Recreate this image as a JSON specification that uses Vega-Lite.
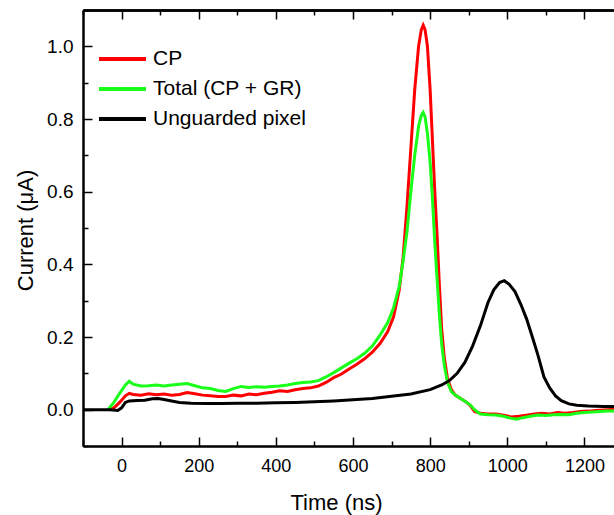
{
  "$schema": "https://vega.github.io/schema/vega-lite/v6.json",
  "width": 540,
  "height": 436,
  "autosize": {"type": "none"},
  "padding": {"left": 83, "top": 10, "right": -9, "bottom": 69},
  "background": "white",
  "config": {
    "view": {"stroke": null},
    "font": "Liberation Sans",
    "axis": {
      "grid": false,
      "domainColor": "black",
      "domainWidth": 2,
      "tickColor": "black",
      "tickWidth": 1.5,
      "labelColor": "black",
      "titleColor": "black",
      "labelFont": "Liberation Sans",
      "titleFont": "Liberation Sans",
      "titleFontWeight": "normal",
      "labelOverlap": false,
      "zindex": 1
    }
  },
  "datasets": {
    "curves": [
      {"t": -35, "v": 0.0, "series": "CP"},
      {"t": -20, "v": 0.005, "series": "CP"},
      {"t": -5, "v": 0.02, "series": "CP"},
      {"t": 10, "v": 0.038, "series": "CP"},
      {"t": 20, "v": 0.045, "series": "CP"},
      {"t": 30, "v": 0.042, "series": "CP"},
      {"t": 50, "v": 0.04, "series": "CP"},
      {"t": 70, "v": 0.044, "series": "CP"},
      {"t": 90, "v": 0.041, "series": "CP"},
      {"t": 110, "v": 0.043, "series": "CP"},
      {"t": 130, "v": 0.04, "series": "CP"},
      {"t": 150, "v": 0.042, "series": "CP"},
      {"t": 170, "v": 0.047, "series": "CP"},
      {"t": 190, "v": 0.044, "series": "CP"},
      {"t": 210, "v": 0.04, "series": "CP"},
      {"t": 230, "v": 0.038, "series": "CP"},
      {"t": 250, "v": 0.036, "series": "CP"},
      {"t": 270, "v": 0.036, "series": "CP"},
      {"t": 290, "v": 0.04, "series": "CP"},
      {"t": 310, "v": 0.038, "series": "CP"},
      {"t": 330, "v": 0.043, "series": "CP"},
      {"t": 350, "v": 0.041, "series": "CP"},
      {"t": 370, "v": 0.045, "series": "CP"},
      {"t": 390, "v": 0.048, "series": "CP"},
      {"t": 410, "v": 0.052, "series": "CP"},
      {"t": 430, "v": 0.05, "series": "CP"},
      {"t": 450, "v": 0.055, "series": "CP"},
      {"t": 470, "v": 0.058, "series": "CP"},
      {"t": 490, "v": 0.06, "series": "CP"},
      {"t": 510, "v": 0.065, "series": "CP"},
      {"t": 530, "v": 0.075, "series": "CP"},
      {"t": 550, "v": 0.088, "series": "CP"},
      {"t": 570, "v": 0.098, "series": "CP"},
      {"t": 590, "v": 0.112, "series": "CP"},
      {"t": 610, "v": 0.125, "series": "CP"},
      {"t": 630, "v": 0.14, "series": "CP"},
      {"t": 650, "v": 0.158, "series": "CP"},
      {"t": 670, "v": 0.182, "series": "CP"},
      {"t": 690, "v": 0.215, "series": "CP"},
      {"t": 705, "v": 0.255, "series": "CP"},
      {"t": 720, "v": 0.33, "series": "CP"},
      {"t": 730, "v": 0.42, "series": "CP"},
      {"t": 740, "v": 0.56, "series": "CP"},
      {"t": 750, "v": 0.72, "series": "CP"},
      {"t": 760, "v": 0.88, "series": "CP"},
      {"t": 770, "v": 1.0, "series": "CP"},
      {"t": 777, "v": 1.045, "series": "CP"},
      {"t": 782, "v": 1.058, "series": "CP"},
      {"t": 787, "v": 1.045, "series": "CP"},
      {"t": 793, "v": 1.0, "series": "CP"},
      {"t": 800, "v": 0.88, "series": "CP"},
      {"t": 806, "v": 0.74, "series": "CP"},
      {"t": 812, "v": 0.6, "series": "CP"},
      {"t": 818, "v": 0.48, "series": "CP"},
      {"t": 824, "v": 0.34, "series": "CP"},
      {"t": 830, "v": 0.22, "series": "CP"},
      {"t": 837, "v": 0.14, "series": "CP"},
      {"t": 845, "v": 0.085, "series": "CP"},
      {"t": 855, "v": 0.055, "series": "CP"},
      {"t": 865, "v": 0.04, "series": "CP"},
      {"t": 880, "v": 0.03, "series": "CP"},
      {"t": 895, "v": 0.02, "series": "CP"},
      {"t": 905, "v": 0.01, "series": "CP"},
      {"t": 915, "v": -0.005, "series": "CP"},
      {"t": 930, "v": -0.01, "series": "CP"},
      {"t": 950, "v": -0.012, "series": "CP"},
      {"t": 970, "v": -0.012, "series": "CP"},
      {"t": 990, "v": -0.015, "series": "CP"},
      {"t": 1010, "v": -0.02, "series": "CP"},
      {"t": 1030, "v": -0.018, "series": "CP"},
      {"t": 1050, "v": -0.015, "series": "CP"},
      {"t": 1070, "v": -0.012, "series": "CP"},
      {"t": 1090, "v": -0.01, "series": "CP"},
      {"t": 1110, "v": -0.012, "series": "CP"},
      {"t": 1130, "v": -0.008, "series": "CP"},
      {"t": 1150, "v": -0.01, "series": "CP"},
      {"t": 1170, "v": -0.008, "series": "CP"},
      {"t": 1190, "v": -0.005, "series": "CP"},
      {"t": 1210, "v": -0.004, "series": "CP"},
      {"t": 1230, "v": -0.002, "series": "CP"},
      {"t": 1260, "v": 0.0, "series": "CP"},
      {"t": 1300, "v": 0.002, "series": "CP"},

      {"t": -35, "v": 0.0, "series": "Total (CP + GR)"},
      {"t": -20, "v": 0.02, "series": "Total (CP + GR)"},
      {"t": -5, "v": 0.045, "series": "Total (CP + GR)"},
      {"t": 10, "v": 0.068, "series": "Total (CP + GR)"},
      {"t": 20, "v": 0.078, "series": "Total (CP + GR)"},
      {"t": 30, "v": 0.07, "series": "Total (CP + GR)"},
      {"t": 50, "v": 0.065, "series": "Total (CP + GR)"},
      {"t": 70, "v": 0.066, "series": "Total (CP + GR)"},
      {"t": 90, "v": 0.068, "series": "Total (CP + GR)"},
      {"t": 110, "v": 0.065, "series": "Total (CP + GR)"},
      {"t": 130, "v": 0.068, "series": "Total (CP + GR)"},
      {"t": 150, "v": 0.07, "series": "Total (CP + GR)"},
      {"t": 170, "v": 0.072, "series": "Total (CP + GR)"},
      {"t": 190, "v": 0.066, "series": "Total (CP + GR)"},
      {"t": 210, "v": 0.06, "series": "Total (CP + GR)"},
      {"t": 230, "v": 0.058, "series": "Total (CP + GR)"},
      {"t": 250, "v": 0.053, "series": "Total (CP + GR)"},
      {"t": 270, "v": 0.05, "series": "Total (CP + GR)"},
      {"t": 290, "v": 0.058, "series": "Total (CP + GR)"},
      {"t": 310, "v": 0.064, "series": "Total (CP + GR)"},
      {"t": 330, "v": 0.061, "series": "Total (CP + GR)"},
      {"t": 350, "v": 0.063, "series": "Total (CP + GR)"},
      {"t": 370, "v": 0.062, "series": "Total (CP + GR)"},
      {"t": 390, "v": 0.064, "series": "Total (CP + GR)"},
      {"t": 410, "v": 0.065, "series": "Total (CP + GR)"},
      {"t": 430, "v": 0.068, "series": "Total (CP + GR)"},
      {"t": 450, "v": 0.072, "series": "Total (CP + GR)"},
      {"t": 470, "v": 0.075, "series": "Total (CP + GR)"},
      {"t": 490, "v": 0.076, "series": "Total (CP + GR)"},
      {"t": 510, "v": 0.08, "series": "Total (CP + GR)"},
      {"t": 530, "v": 0.09, "series": "Total (CP + GR)"},
      {"t": 550, "v": 0.102, "series": "Total (CP + GR)"},
      {"t": 570, "v": 0.115, "series": "Total (CP + GR)"},
      {"t": 590, "v": 0.128, "series": "Total (CP + GR)"},
      {"t": 610, "v": 0.14, "series": "Total (CP + GR)"},
      {"t": 630, "v": 0.155, "series": "Total (CP + GR)"},
      {"t": 650, "v": 0.175, "series": "Total (CP + GR)"},
      {"t": 670, "v": 0.205, "series": "Total (CP + GR)"},
      {"t": 690, "v": 0.24, "series": "Total (CP + GR)"},
      {"t": 705, "v": 0.28, "series": "Total (CP + GR)"},
      {"t": 720, "v": 0.34, "series": "Total (CP + GR)"},
      {"t": 730, "v": 0.41, "series": "Total (CP + GR)"},
      {"t": 740, "v": 0.49, "series": "Total (CP + GR)"},
      {"t": 750, "v": 0.6, "series": "Total (CP + GR)"},
      {"t": 760, "v": 0.7, "series": "Total (CP + GR)"},
      {"t": 770, "v": 0.78, "series": "Total (CP + GR)"},
      {"t": 777, "v": 0.81, "series": "Total (CP + GR)"},
      {"t": 782, "v": 0.818, "series": "Total (CP + GR)"},
      {"t": 787, "v": 0.805, "series": "Total (CP + GR)"},
      {"t": 793, "v": 0.76, "series": "Total (CP + GR)"},
      {"t": 800, "v": 0.68, "series": "Total (CP + GR)"},
      {"t": 806, "v": 0.58, "series": "Total (CP + GR)"},
      {"t": 812, "v": 0.46, "series": "Total (CP + GR)"},
      {"t": 818, "v": 0.36, "series": "Total (CP + GR)"},
      {"t": 824, "v": 0.26, "series": "Total (CP + GR)"},
      {"t": 830, "v": 0.18, "series": "Total (CP + GR)"},
      {"t": 837, "v": 0.12, "series": "Total (CP + GR)"},
      {"t": 845, "v": 0.075, "series": "Total (CP + GR)"},
      {"t": 855, "v": 0.05, "series": "Total (CP + GR)"},
      {"t": 865, "v": 0.04, "series": "Total (CP + GR)"},
      {"t": 880, "v": 0.03, "series": "Total (CP + GR)"},
      {"t": 895, "v": 0.02, "series": "Total (CP + GR)"},
      {"t": 905, "v": 0.012, "series": "Total (CP + GR)"},
      {"t": 915, "v": 0.0, "series": "Total (CP + GR)"},
      {"t": 930, "v": -0.012, "series": "Total (CP + GR)"},
      {"t": 950, "v": -0.014, "series": "Total (CP + GR)"},
      {"t": 970, "v": -0.015, "series": "Total (CP + GR)"},
      {"t": 990, "v": -0.018, "series": "Total (CP + GR)"},
      {"t": 1010, "v": -0.024, "series": "Total (CP + GR)"},
      {"t": 1025, "v": -0.026, "series": "Total (CP + GR)"},
      {"t": 1040, "v": -0.022, "series": "Total (CP + GR)"},
      {"t": 1060, "v": -0.018, "series": "Total (CP + GR)"},
      {"t": 1080, "v": -0.015, "series": "Total (CP + GR)"},
      {"t": 1100, "v": -0.016, "series": "Total (CP + GR)"},
      {"t": 1120, "v": -0.014, "series": "Total (CP + GR)"},
      {"t": 1140, "v": -0.013, "series": "Total (CP + GR)"},
      {"t": 1160, "v": -0.014, "series": "Total (CP + GR)"},
      {"t": 1180, "v": -0.01, "series": "Total (CP + GR)"},
      {"t": 1200, "v": -0.008, "series": "Total (CP + GR)"},
      {"t": 1230, "v": -0.006, "series": "Total (CP + GR)"},
      {"t": 1260, "v": -0.004, "series": "Total (CP + GR)"},
      {"t": 1300, "v": -0.003, "series": "Total (CP + GR)"},

      {"t": -100, "v": 0.0, "series": "Unguarded pixel"},
      {"t": -60, "v": 0.0, "series": "Unguarded pixel"},
      {"t": -30, "v": 0.0, "series": "Unguarded pixel"},
      {"t": -10, "v": -0.002, "series": "Unguarded pixel"},
      {"t": 0, "v": 0.005, "series": "Unguarded pixel"},
      {"t": 10, "v": 0.02, "series": "Unguarded pixel"},
      {"t": 20, "v": 0.024, "series": "Unguarded pixel"},
      {"t": 40, "v": 0.025, "series": "Unguarded pixel"},
      {"t": 60, "v": 0.026, "series": "Unguarded pixel"},
      {"t": 80, "v": 0.03, "series": "Unguarded pixel"},
      {"t": 95, "v": 0.031, "series": "Unguarded pixel"},
      {"t": 110, "v": 0.028, "series": "Unguarded pixel"},
      {"t": 130, "v": 0.024, "series": "Unguarded pixel"},
      {"t": 150, "v": 0.02, "series": "Unguarded pixel"},
      {"t": 180, "v": 0.018, "series": "Unguarded pixel"},
      {"t": 220, "v": 0.017, "series": "Unguarded pixel"},
      {"t": 260, "v": 0.017, "series": "Unguarded pixel"},
      {"t": 300, "v": 0.018, "series": "Unguarded pixel"},
      {"t": 350, "v": 0.018, "series": "Unguarded pixel"},
      {"t": 400, "v": 0.019, "series": "Unguarded pixel"},
      {"t": 450, "v": 0.02, "series": "Unguarded pixel"},
      {"t": 500, "v": 0.022, "series": "Unguarded pixel"},
      {"t": 550, "v": 0.024, "series": "Unguarded pixel"},
      {"t": 600, "v": 0.027, "series": "Unguarded pixel"},
      {"t": 650, "v": 0.031, "series": "Unguarded pixel"},
      {"t": 700, "v": 0.037, "series": "Unguarded pixel"},
      {"t": 750, "v": 0.043, "series": "Unguarded pixel"},
      {"t": 800, "v": 0.055, "series": "Unguarded pixel"},
      {"t": 830, "v": 0.068, "series": "Unguarded pixel"},
      {"t": 850, "v": 0.08, "series": "Unguarded pixel"},
      {"t": 870, "v": 0.1, "series": "Unguarded pixel"},
      {"t": 890, "v": 0.13, "series": "Unguarded pixel"},
      {"t": 910, "v": 0.175, "series": "Unguarded pixel"},
      {"t": 930, "v": 0.23, "series": "Unguarded pixel"},
      {"t": 950, "v": 0.295, "series": "Unguarded pixel"},
      {"t": 965, "v": 0.33, "series": "Unguarded pixel"},
      {"t": 980, "v": 0.35, "series": "Unguarded pixel"},
      {"t": 992, "v": 0.355, "series": "Unguarded pixel"},
      {"t": 1005, "v": 0.345, "series": "Unguarded pixel"},
      {"t": 1020, "v": 0.325, "series": "Unguarded pixel"},
      {"t": 1035, "v": 0.29, "series": "Unguarded pixel"},
      {"t": 1050, "v": 0.25, "series": "Unguarded pixel"},
      {"t": 1065, "v": 0.2, "series": "Unguarded pixel"},
      {"t": 1080, "v": 0.148, "series": "Unguarded pixel"},
      {"t": 1095, "v": 0.09, "series": "Unguarded pixel"},
      {"t": 1110, "v": 0.06, "series": "Unguarded pixel"},
      {"t": 1125, "v": 0.038, "series": "Unguarded pixel"},
      {"t": 1140, "v": 0.025, "series": "Unguarded pixel"},
      {"t": 1160, "v": 0.016, "series": "Unguarded pixel"},
      {"t": 1180, "v": 0.012, "series": "Unguarded pixel"},
      {"t": 1210, "v": 0.01, "series": "Unguarded pixel"},
      {"t": 1250, "v": 0.009, "series": "Unguarded pixel"},
      {"t": 1300, "v": 0.009, "series": "Unguarded pixel"}
    ]
  },
  "data": {"name": "curves"},
  "resolve": {"axis": {"x": "independent", "y": "independent"}},
  "layer": [
    {
      "mark": {"type": "line", "strokeWidth": 3, "clip": true},
      "encoding": {
        "x": {
          "field": "t", "type": "quantitative",
          "scale": {"domain": [-100, 1300], "nice": false, "zero": false},
          "axis": {
            "orient": "bottom",
            "values": [0, 200, 400, 600, 800, 1000, 1200],
            "tickSize": -9,
            "labelExpr": "format(datum.value, 'd')",
            "labelFontSize": 18,
            "labelPadding": 20,
            "title": "Time (ns)",
            "titleFontSize": 22,
            "titleX": 253,
            "titleY": 56,
            "titleBaseline": "middle",
            "titleAlign": "center"
          }
        },
        "y": {
          "field": "v", "type": "quantitative",
          "scale": {"domain": [-0.1, 1.1], "nice": false, "zero": false},
          "axis": {
            "orient": "left",
            "values": [0, 0.2, 0.4, 0.6, 0.8, 1.0],
            "tickSize": -9,
            "labelExpr": "format(datum.value, '.1f')",
            "labelFontSize": 19,
            "labelPadding": 19,
            "title": "Current (μA)",
            "titleFontSize": 22,
            "titleAngle": -90,
            "titleX": -58,
            "titleY": 220,
            "titleBaseline": "middle",
            "titleAlign": "center"
          }
        },
        "color": {
          "field": "series", "type": "nominal",
          "scale": {"domain": ["CP", "Total (CP + GR)", "Unguarded pixel"], "range": ["#ff0000", "#19ff19", "#000000"]},
          "legend": {
            "title": null,
            "orient": "none",
            "legendX": 14,
            "legendY": 34,
            "symbolType": "stroke",
            "symbolSize": 2209,
            "symbolStrokeWidth": 4,
            "clipHeight": 30,
            "labelFontSize": 21,
            "labelFont": "Liberation Sans",
            "labelColor": "black",
            "labelOffset": 5,
            "rowPadding": 0,
            "padding": 0,
            "labelLimit": 400
          }
        }
      }
    },
    {
      "mark": {"type": "point", "opacity": 0},
      "encoding": {
        "x": {
          "field": "t", "type": "quantitative",
          "axis": {"orient": "top", "values": [0, 200, 400, 600, 800, 1000, 1200], "tickSize": -9, "labels": false, "title": null, "domain": true, "domainColor": "#000000", "domainWidth": 2.5, "tickColor": "#000000", "tickWidth": 1.5}
        },
        "y": {
          "field": "v", "type": "quantitative",
          "axis": {"orient": "right", "values": [0, 0.2, 0.4, 0.6, 0.8, 1.0], "tickSize": -9, "labels": false, "title": null}
        }
      }
    },
    {
      "mark": {"type": "point", "opacity": 0},
      "encoding": {
        "x": {
          "field": "t", "type": "quantitative",
          "axis": {"orient": "bottom", "values": [-100, 100, 300, 500, 700, 900, 1100, 1300], "tickSize": -5, "domain": true, "labels": false, "title": null}
        },
        "y": {
          "field": "v", "type": "quantitative",
          "axis": {"orient": "left", "values": [-0.1, 0.1, 0.3, 0.5, 0.7, 0.9, 1.1], "tickSize": -5, "domain": true, "labels": false, "title": null}
        }
      }
    },
    {
      "mark": {"type": "point", "opacity": 0},
      "encoding": {
        "x": {
          "field": "t", "type": "quantitative",
          "axis": {"orient": "top", "values": [-100, 100, 300, 500, 700, 900, 1100, 1300], "tickSize": -5, "domain": true, "labels": false, "title": null, "domainColor": "#000000", "domainWidth": 2.5}
        },
        "y": {
          "field": "v", "type": "quantitative",
          "axis": {"orient": "right", "values": [-0.1, 0.1, 0.3, 0.5, 0.7, 0.9, 1.1], "tickSize": -5, "domain": true, "labels": false, "title": null}
        }
      }
    }
  ]
}
